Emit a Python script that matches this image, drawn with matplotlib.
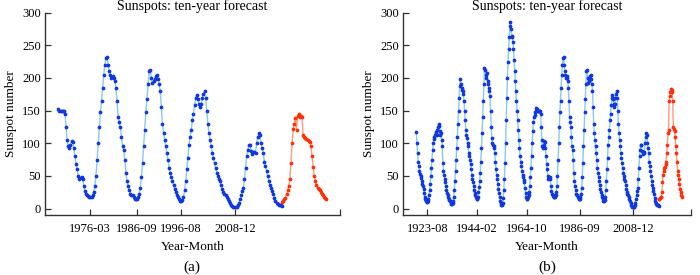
import numpy as np
import matplotlib
matplotlib.use('Agg')
import matplotlib.pyplot as plt

# smoothed monthly sunspot number, every quarter year
hist_start = 1919.0
ssn_1910s = [117, 100, 85, 72]
ssn_1920s = [65, 58, 53, 50, 46, 42, 38, 35, 30, 24, 18, 14, 11, 10, 10, 11,
             14, 20, 28, 38, 50, 62, 75, 90, 100, 106, 110, 112, 115, 117, 113, 120,
             125, 130, 127, 118, 112, 115, 105, 95]
ssn_1930s = [70, 58, 52, 45, 40, 35, 28, 24, 20, 18, 15, 13, 11, 9, 7, 7,
             9, 12, 18, 28, 42, 58, 75, 92, 110, 130, 150, 170, 188, 198, 190, 185,
             182, 180, 176, 165, 150, 135, 120, 112]
ssn_1940s = [108, 100, 95, 85, 80, 75, 68, 60, 52, 45, 40, 35, 28, 24, 20, 17,
             14, 14, 18, 25, 33, 42, 55, 72, 92, 115, 140, 165, 190, 215, 212, 200,
             205, 208, 196, 190, 185, 180, 172, 150]
ssn_1950s = [125, 108, 100, 98, 96, 92, 85, 72, 60, 52, 45, 38, 30, 24, 18, 12,
             8, 6, 6, 9, 16, 28, 45, 70, 100, 135, 170, 200, 225, 245, 262, 280,
             285, 275, 265, 262, 255, 245, 228, 210]
ssn_1960s = [195, 180, 165, 150, 135, 120, 105, 92, 80, 72, 65, 58, 52, 48, 44, 40,
             32, 24, 18, 15, 15, 17, 20, 26, 35, 48, 62, 80, 100, 118, 132, 140,
             144, 148, 150, 154, 152, 150, 149, 150]
ssn_1970s = [150, 149, 145, 125, 105, 95, 92, 98, 104, 102, 92, 80, 68, 60, 50, 45,
             46, 48, 45, 35, 27, 22, 21, 19, 18, 17, 18, 20, 25, 35, 50, 75,
             100, 125, 148, 165, 185, 205, 220, 230]
ssn_1980s = [232, 220, 210, 205, 200, 203, 200, 195, 185, 165, 140, 132, 125, 110, 95, 90,
             75, 55, 42, 35, 28, 23, 21, 20, 18, 15, 14, 14, 17, 22, 32, 48,
             70, 95, 120, 148, 168, 190, 210, 212]
ssn_1990s = [200, 192, 195, 198, 203, 204, 198, 190, 180, 155, 130, 115, 105, 95, 85, 75,
             62, 55, 48, 42, 36, 30, 25, 20, 17, 14, 12, 12, 13, 18, 28, 42,
             60, 78, 98, 110, 120, 135, 145, 158]
ssn_2000s = [170, 174, 168, 160, 155, 160, 170, 176, 180, 170, 150, 130, 115, 105, 95, 85,
             78, 70, 62, 55, 50, 45, 42, 36, 30, 26, 23, 20, 17, 14, 12, 9,
             6, 4, 3, 2, 2, 3, 5, 8]
ssn_2010s = [14, 20, 27, 32, 45, 62, 80, 90, 97, 98, 88, 84, 86, 87, 85, 100,
             110, 115, 112, 100, 92, 85, 72, 65, 58, 50, 42, 36, 32, 27, 22, 16,
             12, 9, 7, 6, 5, 5, 4]

# ten-year forecasts, starting 2019.5
fc_start = 2019.5
forecast_a = [10, 12, 14, 16, 22, 28, 35, 45, 70, 100, 122, 130, 138, 120, 142, 145,
              140, 142, 140, 112, 110, 108, 107, 105, 104, 102, 95, 80, 64, 50, 42, 36,
              32, 30, 28, 25, 22, 20, 18, 16, 15]
forecast_b = [15, 15, 16, 17, 18, 25, 40, 52, 58, 62, 64, 68, 72, 85, 98, 115,
              120, 165, 172, 178, 183, 182, 178, 165, 125, 122, 118, 110, 95, 85, 72, 58,
              52, 45, 38, 30, 25, 20, 17]

ticks_a = ['1976-03', '1986-09', '1996-08', '2008-12']
ticks_b = ['1923-08', '1944-02', '1964-10', '1986-09', '2008-12']

step = 0.25
hist = np.array(ssn_1910s + ssn_1920s + ssn_1930s + ssn_1940s + ssn_1950s
                + ssn_1960s + ssn_1970s + ssn_1980s + ssn_1990s + ssn_2000s + ssn_2010s)
t_hist = hist_start + step * np.arange(len(hist))


def ym(s):
    y, m = s.split('-')
    return int(y) + (int(m) - 1) / 12


plt.rcParams['font.family'] = ['Liberation Serif']

fig = plt.figure(figsize=(7, 2.75), dpi=100)
ax_a = fig.add_axes([0.0643, 0.218, 0.421, 0.736])
ax_b = fig.add_axes([0.5761, 0.218, 0.411, 0.736])

blue_line, blue_dot = '#8cc8f0', '#1038e0'
red_line, red_dot = '#ff9a80', '#ff3008'


def draw(ax, t0, fc, ticks, xlim, tag):
    m = t_hist >= t0
    ax.plot(t_hist[m], hist[m], color=blue_line, lw=1, marker='.', ms=3.4,
            mfc=blue_dot, mec=blue_dot, zorder=2)
    t_fc = fc_start + step * np.arange(len(fc))
    ax.plot(t_fc, fc, color=red_line, lw=1, marker='.', ms=3.4,
            mfc=red_dot, mec=red_dot, zorder=2)
    ax.set_xlim(*xlim)
    ax.set_ylim(-10, 300)
    ax.set_yticks(range(0, 301, 50))
    ax.set_xticks([ym(s) for s in ticks] + [xlim[1]])
    ax.set_xticklabels(ticks + [''])
    ax.tick_params(direction='in', length=4, width=0.9, labelsize=9, color='#333333')
    ax.tick_params(axis='x', pad=6)
    ax.tick_params(axis='y', pad=3)
    for s in ['top', 'right']:
        ax.spines[s].set_visible(False)
    for s in ['left', 'bottom']:
        ax.spines[s].set_color('#333333')
        ax.spines[s].set_linewidth(1)
    ax.set_title('Sunspots: ten-year forecast', fontsize=10, pad=1)
    ax.set_xlabel('Year-Month', fontsize=9.5, labelpad=4)
    ax.set_ylabel('Sunspot number', fontsize=9.5, labelpad=4)
    ax.text(0.5, -0.258, tag, transform=ax.transAxes, ha='center', va='center',
            fontsize=11)


draw(ax_a, 1969.0, forecast_a, ticks_a, (1966.0, 2032.5), '(a)')
draw(ax_b, hist_start, forecast_b, ticks_b, (1913.6, 2032.8), '(b)')

fig.savefig('out.png', dpi=100)
